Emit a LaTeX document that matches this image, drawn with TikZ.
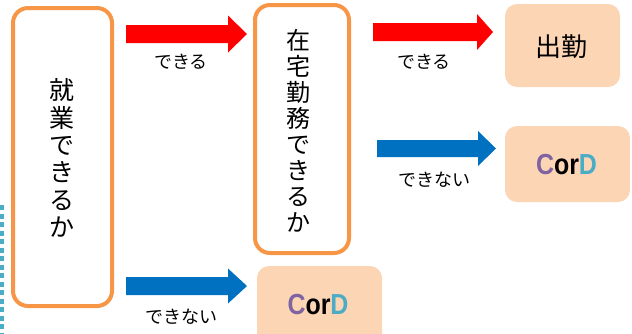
\documentclass[tikz,border=0pt]{standalone}
\usepackage{fontspec}
\setmainfont{Liberation Sans}
\newfontfamily\jp{Noto Sans CJK JP}
\definecolor{boxorange}{HTML}{F79646}
\definecolor{peach}{HTML}{FCD5B5}
\definecolor{arrred}{HTML}{FF0000}
\definecolor{arrblue}{HTML}{0070C0}
\definecolor{cpurple}{HTML}{8064A2}
\definecolor{dteal}{HTML}{4BACC6}
\newcommand{\blockarrow}[8]{% color, name, x1, xneck, xtip, ymid, bodyhalf, headhalf
  \fill[#1] (#3,#6-#7) -- (#4,#6-#7) -- (#4,#6-#8) -- (#5,#6) -- (#4,#6+#8) -- (#4,#6+#7) -- (#3,#6+#7) -- cycle;
  \coordinate (#2-tail) at (#3,#6);
  \coordinate (#2-tip) at (#5,#6);}
\tikzset{
  qbox/.style={draw=boxorange, line width=4pt, rounded corners=15pt, fill=white},
  rbox/.style={fill=peach, rounded corners=12pt},
  vtext/.style={align=center, inner sep=0pt, font=\jp\fontsize{25}{27.4}\selectfont},
  lbl/.style={inner sep=0pt, font=\jp\fontsize{18}{20}\selectfont},
  big/.style={inner sep=0pt, font=\jp\fontsize{26}{28}\selectfont},
  cord/.style={inner sep=0pt, font=\bfseries\fontsize{29}{31}\selectfont, xscale=0.86}
}
\newcommand{\CorD}{\textcolor{cpurple}{C}or\textcolor{dteal}{D}}
\begin{document}
\begin{tikzpicture}[x=1pt,y=-1pt]
\useasboundingbox (0,0) rectangle (632,333);
% dotted line on left
\draw[dteal, line width=4pt, dash pattern=on 5pt off 3.5pt] (2,205) -- (2,333);
% left box
\draw[qbox] (13,8) rectangle (112,306);
\node[vtext] (q1) at (62,158) {就\\業\\で\\き\\る\\か};
% middle box
\draw[qbox] (255,5) rectangle (349,253);
\node[vtext, font=\jp\fontsize{24}{26}\selectfont] (q2) at (298,131) {在\\宅\\勤\\務\\で\\き\\る\\か};
% result boxes
\fill[rbox] (505,4) rectangle (620,87);
\node[big] (r1) at (561,47) {出勤};
\fill[rbox] (505,126) rectangle (630,202);
\node[cord] (r2) at (566.5,165) {\CorD};
\fill[rbox] (257,266) rectangle (382,350);
\node[cord] (r3) at (318,305) {\CorD};
% arrows
\blockarrow{arrred}{a1}{126}{228}{247}{34}{9}{18.5}
\blockarrow{arrblue}{a2}{126}{228}{247}{286}{9}{17.5}
\blockarrow{arrred}{a3}{373}{477}{493}{32}{9}{18}
\blockarrow{arrblue}{a4}{377}{478}{496}{148.5}{8.5}{17.5}
% labels
\node[lbl] (l1) at (181,62) {できる};
\node[lbl] (l2) at (181,317) {できない};
\node[lbl] (l3) at (424,62) {できる};
\node[lbl] (l4) at (434,180) {できない};
\end{tikzpicture}
\end{document}
